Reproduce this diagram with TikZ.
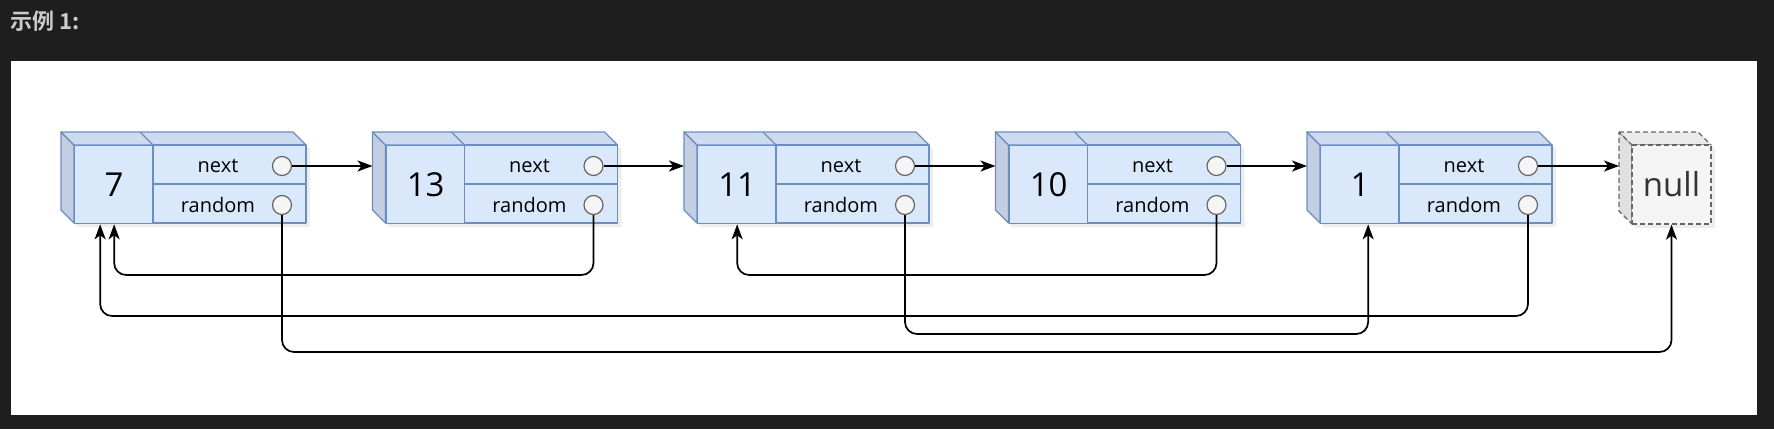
\documentclass[tikz,border=0pt]{standalone}
\usepackage{fontspec}
\setmainfont{Open Sans}
\newfontfamily\cjk[BoldFont={Noto Sans CJK SC Bold}]{Noto Sans CJK SC}
\usetikzlibrary{arrows.meta}

\definecolor{pagebg}{RGB}{30,30,30}
\definecolor{titlegray}{RGB}{204,204,204}
\definecolor{boxfill}{HTML}{DAE8FC}
\definecolor{boxtop}{HTML}{CCDBF0}
\definecolor{boxside}{HTML}{C3CEE2}
\definecolor{boxline}{HTML}{6C8EBF}
\definecolor{dotfill}{HTML}{F5F5F5}
\definecolor{dotline}{HTML}{666666}
\definecolor{nullside}{HTML}{E0E0E0}
\definecolor{nulltext}{HTML}{333333}

\tikzset{
  face/.style={draw=boxline, line width=1.3pt, line join=round},
  nullface/.style={draw=dotline, line width=1.3pt, dash pattern=on 5pt off 3pt, line join=round},
  dot/.style={circle, draw=dotline, fill=dotfill, line width=1.2pt, minimum size=19pt, inner sep=0pt},
  field/.style={font=\fontsize{20}{22}\selectfont, inner sep=0pt},
  val/.style={draw=boxline, fill=boxfill, line width=1.3pt, font=\fontsize{33}{35}\selectfont,
    minimum width=79pt, minimum height=78pt, inner sep=0pt, anchor=north west},
  shade/.style={fill=black, opacity=0.07},
  link/.style={line width=1.7pt, rounded corners=12pt, -{Stealth[length=15pt,width=11pt,inset=4pt]}}
}

\begin{document}
\begin{tikzpicture}[x=1pt, y=-1pt]
  \fill[pagebg] (0,0) rectangle (1774,429);
  \fill[white] (11,61) rectangle (1757,415);
  \node[anchor=west, inner sep=0pt, text=titlegray, font=\cjk\bfseries\fontsize{22}{24}\selectfont] (title) at (10,21) {示例 1:};

  % list nodes
  \foreach \i/\fx/\num in {1/74/7, 2/385.5/13, 3/697/11, 4/1008.5/10, 5/1320/1} {
    \fill[shade] (\fx-10,136) -- (\fx+222,136) -- (\fx+236,149) -- (\fx+236,227) -- (\fx+4,227) -- (\fx-10,214) -- cycle;
    \draw[face, fill=boxside] (\fx-13,132) -- (\fx,145) -- (\fx,223) -- (\fx-13,210) -- cycle;
    \draw[face, fill=boxtop] (\fx-13,132) -- (\fx+219,132) -- (\fx+232,145) -- (\fx,145) -- cycle;
    \draw[face] (\fx+66,132) -- (\fx+79,145);
    \node[val] (v\i) at (\fx,145) {\num};
    \draw[face, fill=boxfill] (\fx+79,145) rectangle (\fx+232,223);
    \draw[face] (\fx+79,184) -- (\fx+232,184);
    \node[field] (nt\i) at (\fx+144,166) {next};
    \node[field] (rt\i) at (\fx+144,205) {random};
    \node[dot] (nx\i) at (\fx+208,166) {};
    \node[dot] (rd\i) at (\fx+208,205) {};
    \coordinate (in\i) at (\fx-13,166);
  }

  % null
  \fill[shade] (1623,136) -- (1702,136) -- (1715,149) -- (1715,228) -- (1636,228) -- (1623,215) -- cycle;
  \draw[nullface, fill=nullside] (1619,132) -- (1632,145) -- (1632,224) -- (1619,211) -- cycle;
  \draw[nullface, fill=nullside!50!dotfill] (1619,132) -- (1698,132) -- (1711,145) -- (1632,145) -- cycle;
  \node[nullface, fill=dotfill, text=nulltext, minimum width=79pt, minimum height=79pt, inner sep=0pt,
    font=\fontsize{33}{35}\selectfont] (null) at (1671.5,184.5) {null};
  \coordinate (innull) at (1619,166);

  % next pointers
  \foreach \i/\j in {1/2, 2/3, 3/4, 4/5}
    \draw[link] (nx\i) -- (in\j);
  \draw[link] (nx5) -- (innull);

  % random pointers
  \draw[link] (rd2) -- (rd2 |- 0,275) -| (v1.south);
  \draw[link] (rd5) -- (rd5 |- 0,316) -| ([xshift=-14pt]v1.south);
  \draw[link] (rd4) -- (rd4 |- 0,275) -| (v3.south);
  \draw[link] (rd3) -- (rd3 |- 0,334) -| ([xshift=8pt]v5.south);
  \draw[link] (rd1) -- (rd1 |- 0,352) -| (null.south);
\end{tikzpicture}
\end{document}
